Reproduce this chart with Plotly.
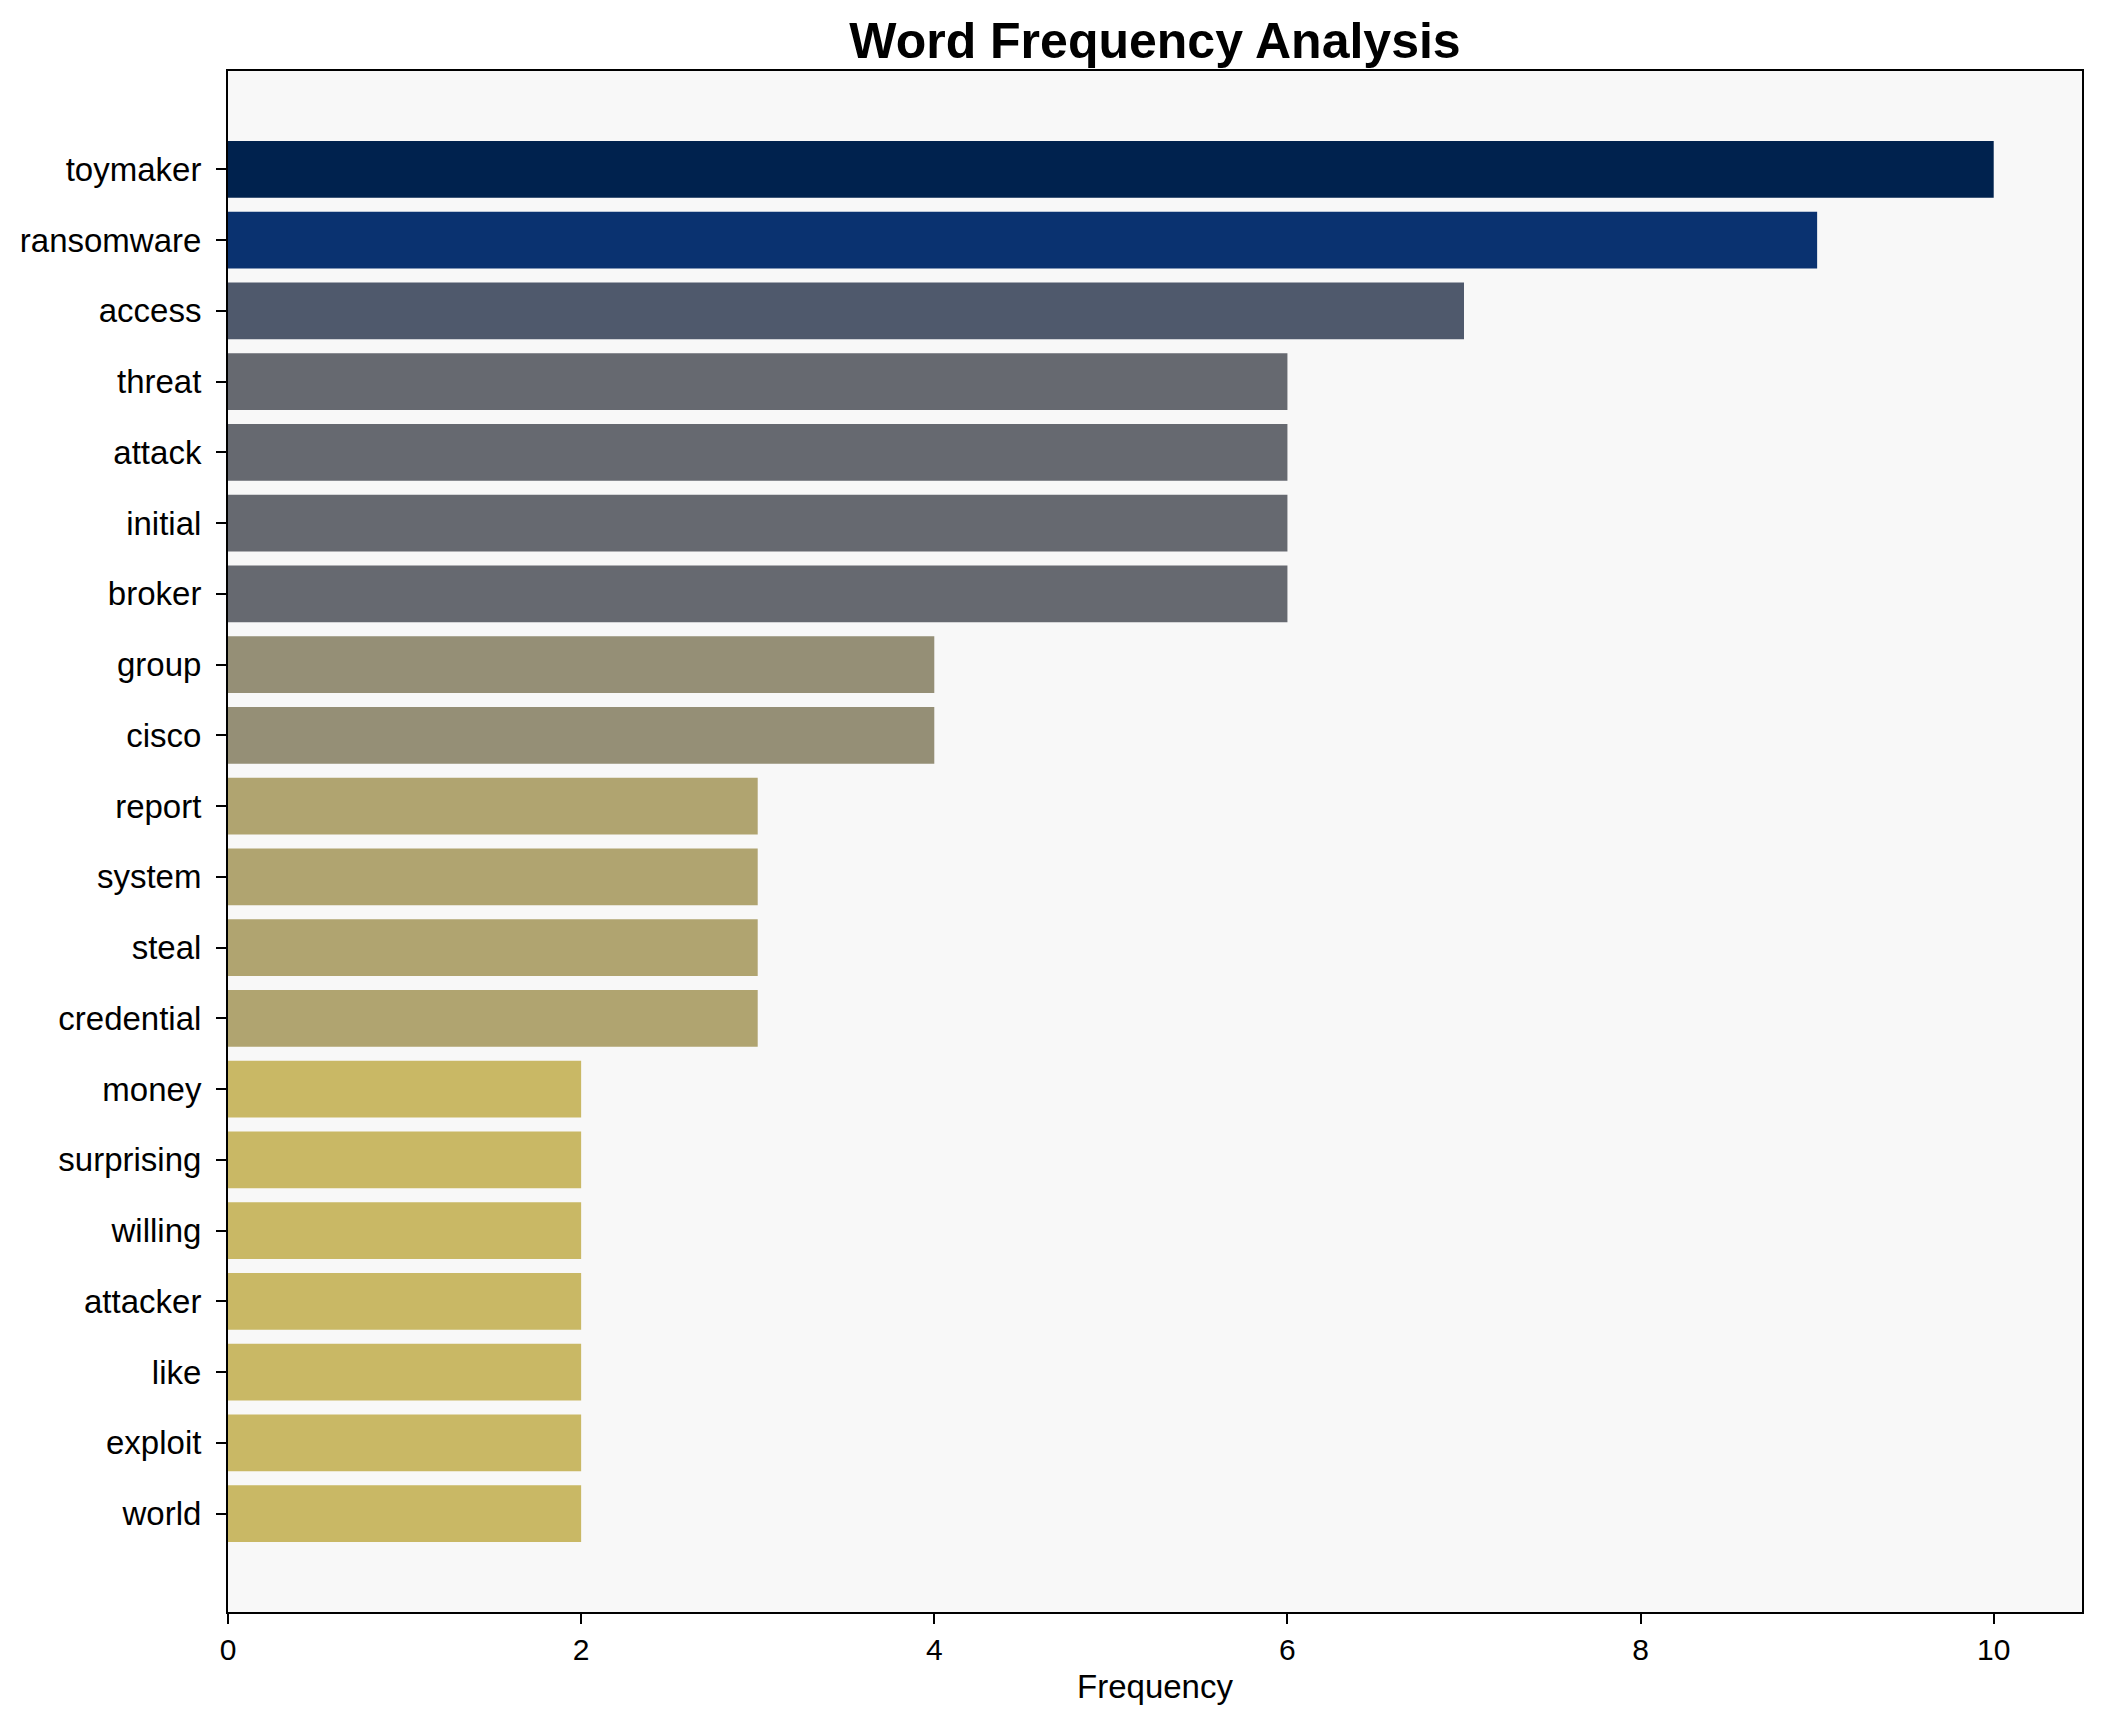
import plotly.graph_objects as go

words = ["toymaker", "ransomware", "access", "threat", "attack", "initial", "broker",
         "group", "cisco", "report", "system", "steal", "credential", "money",
         "surprising", "willing", "attacker", "like", "exploit", "world"]
counts = [10, 9, 7, 6, 6, 6, 6, 4, 4, 3, 3, 3, 3, 2, 2, 2, 2, 2, 2, 2]
bar_colors = ["#00224e", "#0a3270", "#4f596c", "#666970", "#666970", "#666970", "#666970",
              "#958f76", "#958f76", "#b0a470", "#b0a470", "#b0a470", "#b0a470",
              "#c9b865", "#c9b865", "#c9b865", "#c9b865", "#c9b865", "#c9b865", "#c9b865"]
x_ticks = [0, 2, 4, 6, 8, 10]

fig = go.Figure(go.Bar(
    x=counts, y=words, orientation="h", width=0.8,
    marker=dict(color=bar_colors, line=dict(width=0)),
))

font = "Liberation Sans, Arial, sans-serif"
fig.update_layout(
    width=2094, height=1714,
    margin=dict(l=214, r=20, t=63, b=110),
    paper_bgcolor="white", plot_bgcolor="#f8f8f8",
    font=dict(family=font, size=33, color="black"),
    title=dict(text="<b>Word Frequency Analysis</b>", x=0.5, xref="paper", xanchor="center",
               y=1 - 32 / 1714, yanchor="middle", font=dict(size=50, family=font)),
    showlegend=False,
    bargap=0.2,
)
fig.update_xaxes(
    range=[0, 10.5], tickvals=x_ticks, ticks="outside", ticklen=10, tickwidth=1.5,
    tickcolor="black", showline=True, linecolor="black", linewidth=2, mirror=True,
    showgrid=False, zeroline=False,
    title=dict(text="Frequency", standoff=10, font=dict(size=33)),
    tickfont=dict(size=30),
)
fig.update_yaxes(
    type="category", range=[20.39, -1.39], ticks="outside", ticklen=10, tickwidth=1.5,
    tickcolor="black", showline=True, linecolor="black", linewidth=2, mirror=True,
    showgrid=False, zeroline=False, ticklabelstandoff=8,
)
fig.write_html("out.html")
